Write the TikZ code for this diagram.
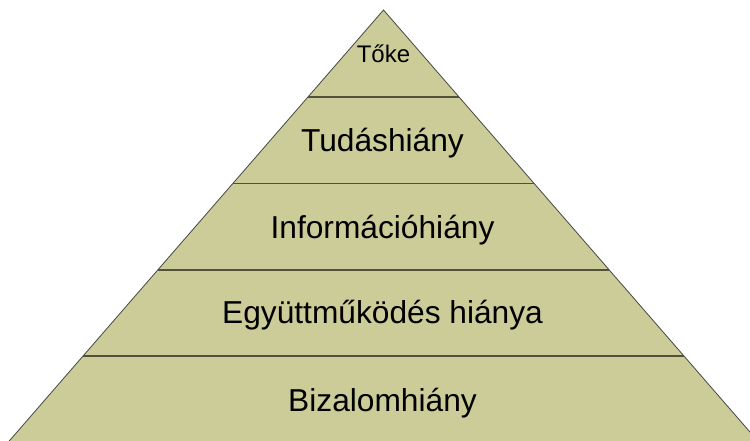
\documentclass[tikz,border=0pt]{standalone}
\usepackage{fontspec}
\setmainfont{Liberation Sans}
\usetikzlibrary{calc}
\definecolor{pyrfill}{RGB}{204,204,153}
\definecolor{pyrline}{RGB}{80,80,60}
\definecolor{pyredge}{RGB}{70,70,70}
\tikzset{
  divider/.style={draw=pyrline, line width=1.4pt},
  label/.style={anchor=base, inner sep=0pt, font=\fontsize{31.7}{36}\selectfont},
  smalllabel/.style={anchor=base, inner sep=0pt, font=\fontsize{24}{28}\selectfont}
}
\begin{document}
\begin{tikzpicture}[x=1pt,y=-1pt]
\useasboundingbox (0,0) rectangle (750,441);
\clip (0,0) rectangle (750,441);
\coordinate (apex) at (383.5,10);
\coordinate (bl) at (7.5,443);
\coordinate (br) at (759.5,443);
\filldraw[fill=pyrfill, draw=pyredge, line width=0.8pt] (apex) -- (bl) -- (br) -- cycle;
\foreach \t/\n in {0.2009/a,0.4007/b,0.6005/c,0.7991/d}{
  \coordinate (l\n) at ($(apex)!\t!(bl)$);
  \coordinate (r\n) at ($(apex)!\t!(br)$);
  \draw[divider] (l\n) -- (r\n);
}
\node[smalllabel] (toke) at (383.5,63) {Tőke};
\node[label] (tudas) at (382.5,152) {Tudáshiány};
\node[label] (info) at (382.5,238) {Információhiány};
\node[label] (egyutt) at (382.5,323) {Együttműködés hiánya};
\node[label] (bizalom) at (382.5,411) {Bizalomhiány};
\end{tikzpicture}
\end{document}
